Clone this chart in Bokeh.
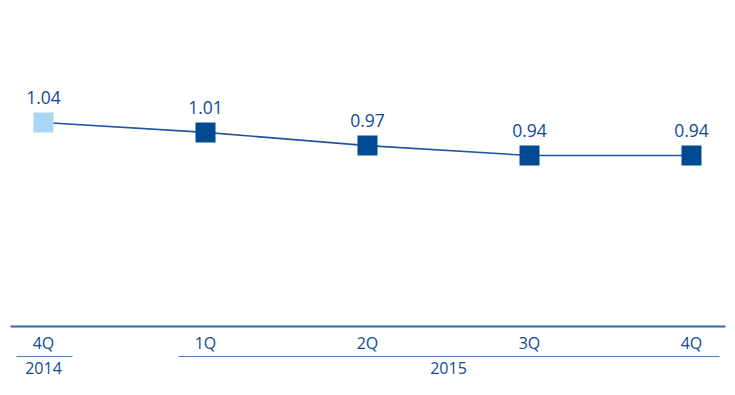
from bokeh.plotting import figure
from bokeh.models import Range1d, ColumnDataSource
from bokeh.embed import file_html
from bokeh.resources import INLINE
from bokeh.core.properties import value

quarters = ["4Q", "1Q", "2Q", "3Q", "4Q"]
values = [1.04, 1.01, 0.97, 0.94, 0.94]
years = ["2014", "2015"]
year_pos = [0.0, 2.5]
marker_colors = ["#A8D6F4", "#004A94", "#004A94", "#004A94", "#004A94"]

idx = list(range(len(values)))
labels = [f"{v:.2f}" for v in values]

TEXT = "#0E4A96"
FONT = value("Open Sans")

W, H = 735, 395
PX = 162.0   # px per category
PY = 330.0   # px per unit value
x0px, y0px = 43.0, 122.0

p = figure(width=W, height=H, output_backend="svg", toolbar_location=None,
           x_range=Range1d(-x0px / PX, (W - x0px) / PX),
           y_range=Range1d(1.04 - (H - y0px) / PY, 1.04 + y0px / PY),
           min_border=0, outline_line_color=None)
p.xaxis.visible = False
p.yaxis.visible = False
p.xgrid.visible = False
p.ygrid.visible = False
p.background_fill_color = None
p.border_fill_color = None

base = 1.04 - (326 - y0px) / PY  # axis baseline value

src = ColumnDataSource(dict(x=idx, y=values, c=marker_colors, t=labels,
                            q=quarters, b=[base] * len(idx)))

p.line("x", "y", source=src, line_color="#1D55A0", line_width=1.6)
p.scatter("x", "y", source=src, marker="square", size=20, fill_color="c",
          line_color=None)
p.text("x", "y", text="t", source=src, text_align="center",
       text_baseline="alphabetic", y_offset=-25, text_font=FONT,
       text_font_size="17.5px", text_color=TEXT)

# axis line
p.segment(x0=[(10 - x0px) / PX], y0=[base], x1=[(725 - x0px) / PX], y1=[base],
          line_color="#2F6BAE", line_width=2)

# quarter labels
p.text("x", "b", text="q", source=src, text_align="center",
       text_baseline="alphabetic", y_offset=16.5, text_font=FONT,
       text_font_size="16px", text_color=TEXT)

# group separator lines
sep_y = base - 30 / PY
p.segment(x0=[(16 - x0px) / PX, (178 - x0px) / PX], y0=[sep_y, sep_y],
          x1=[(72 - x0px) / PX, (719 - x0px) / PX], y1=[sep_y, sep_y],
          line_color="#4A7FBF", line_width=1.2)

# year labels
p.text(x=year_pos, y=[base, base], text=years, text_align="center",
       text_baseline="alphabetic", y_offset=41.5, text_font=FONT,
       text_font_size="16px", text_color=TEXT)

open("out.html", "w").write(file_html(p, INLINE))
